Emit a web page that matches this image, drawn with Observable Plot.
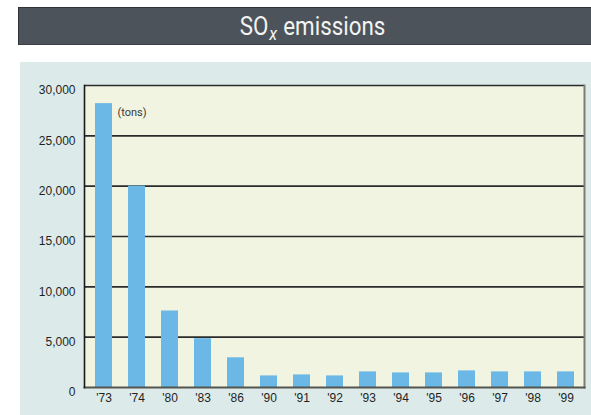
<!DOCTYPE html>
<html>
<head>
<meta charset="utf-8">
<script src="https://cdn.jsdelivr.net/npm/d3@7"></script>
<script src="https://cdn.jsdelivr.net/npm/@observablehq/plot@0.6"></script>
<style>
  html, body { margin: 0; padding: 0; background: #ffffff; width: 591px; height: 415px; overflow: hidden; }
  #titlebar {
    position: absolute; left: 18px; top: 7px; width: 573px; height: 38px;
    background: #4c535a; border-top: 1px solid #2e3337; border-left: 1px solid #2e3337; border-bottom: 1px solid #3a4045;
    box-sizing: border-box; padding-left: 16px; text-align: center;
    font-family: Roboto, "Liberation Sans", sans-serif; color: #f3f3f3;
  }
  #titlebar .t { display: inline-block; font-size: 26px; line-height: 36px; transform: scaleX(0.86); transform-origin: center; white-space: nowrap; }
  #titlebar sub { font-size: 19px; font-style: italic; vertical-align: baseline; position: relative; top: 5px; margin-left: 1px; margin-right: 7px; }
  #panel { position: absolute; left: 20px; top: 62px; width: 571px; height: 353px; background: #dcebea; }
  #panel svg { display: block; }
</style>
</head>
<body>
<div id="titlebar"><span class="t">SO<sub>x</sub>emissions</span></div>
<div id="panel"></div>
<script>
const years = ["'73", "'74", "'80", "'83", "'86", "'90", "'91", "'92", "'93", "'94", "'95", "'96", "'97", "'98", "'99"];
const emissions = [28200, 20000, 7600, 4850, 2950, 1150, 1250, 1150, 1550, 1450, 1450, 1650, 1550, 1550, 1550];
const yTicks = [0, 5000, 10000, 15000, 20000, 25000, 30000];
const gridValues = [5000, 10000, 15000, 20000, 25000, 30000];
const unitLabel = ["(tons)"];

const data = years.map((y, i) => ({year: y, value: emissions[i]}));

const chart = Plot.plot({
  width: 571,
  height: 353,
  marginLeft: 64,
  marginRight: 7,
  marginTop: 23,
  marginBottom: 28,
  style: {background: "transparent", fontFamily: "'Liberation Sans', Arial, sans-serif"},
  x: {domain: years, paddingInner: 0.49, paddingOuter: 0.245, label: null},
  y: {domain: [0, 30000], label: null},
  marks: [
    Plot.frame({fill: "#f0f4e0", stroke: null}),
    Plot.ruleY(gridValues, {stroke: "#2b2b2b", strokeWidth: 1.6}),
    Plot.barY(data, {x: "year", y: "value", fill: "#6bb7e5"}),
    Plot.frame({anchor: "right", stroke: "#7d7d76", strokeWidth: 2}),
    Plot.frame({anchor: "bottom", stroke: "#55554f", strokeWidth: 2}),
    Plot.frame({anchor: "left", stroke: "#1a1a1a", strokeWidth: 1.6}),
    Plot.axisY({ticks: yTicks, tickFormat: d3.format(","), tickSize: 0, tickPadding: 9, dy: 5, fontSize: 12, fill: "#1f1f1f"}),
    Plot.axisX({tickSize: 0, tickPadding: 6, fontSize: 12, fill: "#1f1f1f"}),
    Plot.text(unitLabel, {frameAnchor: "top-left", dx: 33, dy: 23, fontSize: 11, fill: "#3a3a3a", fontFamily: "Roboto, sans-serif", textAnchor: "start"})
  ]
});
document.getElementById("panel").appendChild(chart);
</script>
</body>
</html>
